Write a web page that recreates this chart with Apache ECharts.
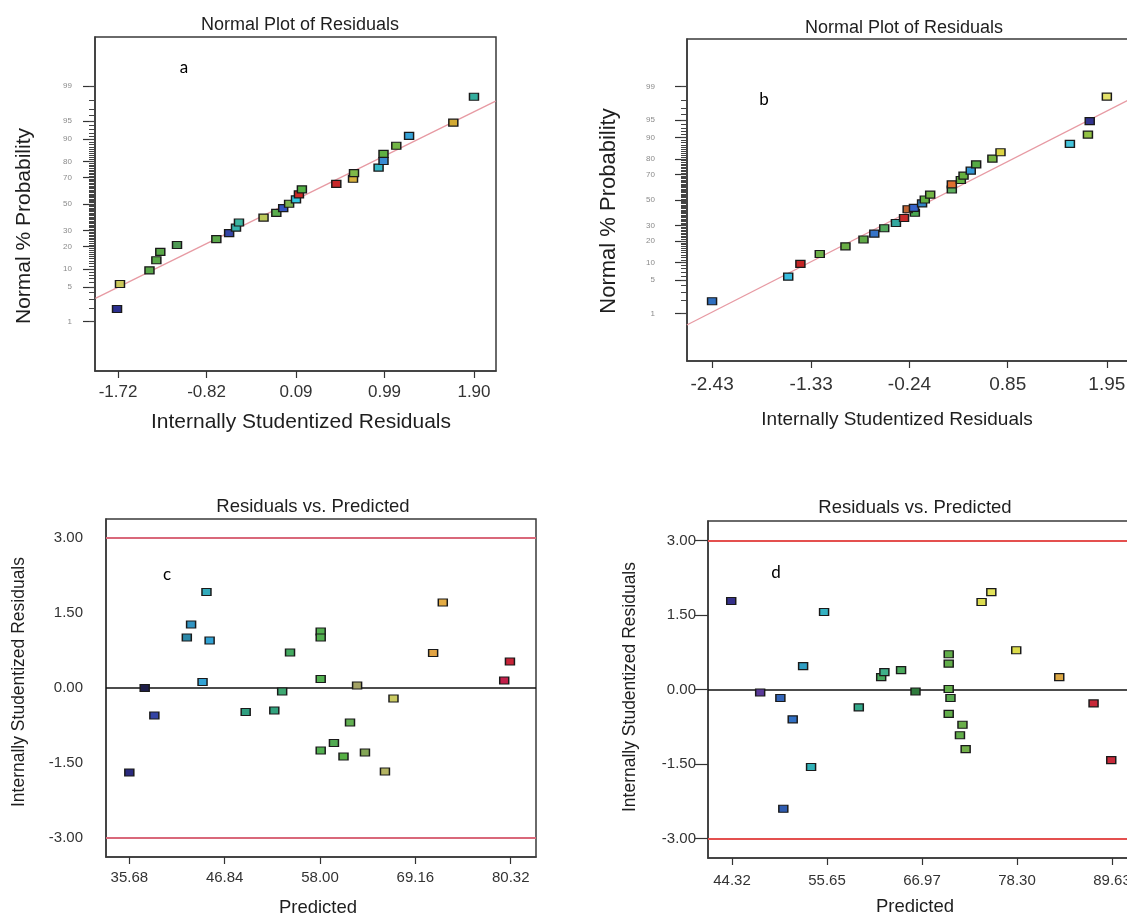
<!DOCTYPE html>
<html>
<head>
<meta charset="utf-8">
<title>Residual plots</title>
<script src="https://cdn.jsdelivr.net/npm/echarts@6/dist/echarts.min.js"></script>
<style>
  html, body { margin: 0; padding: 0; background: #fff; overflow: hidden; }
  #chart { width: 1127px; height: 918px; }
</style>
</head>
<body>
<div id="chart"></div>
<script>
// --- data ---
// a: normal plot, residual vs normal % probability
var resA = [-1.73, -1.70, -1.40, -1.33, -1.29, -1.12, -0.72, -0.59, -0.52, -0.49, -0.24, -0.11, -0.04, 0.02,
            0.09, 0.12, 0.15, 0.50, 0.67, 0.68, 0.93, 0.98, 0.98, 1.11, 1.24, 1.69, 1.90];
var pctA = [1.9, 5.7, 9.5, 13.3, 17.2, 20.9, 24.4, 28.2, 32.0, 35.7, 39.4, 43.0, 46.8, 50.2,
            53.6, 57.5, 61.4, 65.5, 69.1, 72.9, 76.4, 80.2, 83.9, 87.5, 91.1, 94.6, 98.3];
var fitA = [[-1.95, 3.1], [2.12, 97.9]];

// b: normal plot
var resB = [-2.43, -1.585, -1.45, -1.235, -0.95, -0.75, -0.63, -0.52, -0.39, -0.30, -0.18, -0.26, -0.19, -0.10,
            -0.07, -0.01, 0.23, 0.23, 0.33, 0.36, 0.44, 0.50, 0.68, 0.77, 1.54, 1.74, 1.76, 1.95];
var pctB = [1.9, 5.8, 9.5, 13.4, 17.1, 20.9, 24.5, 28.1, 31.9, 35.6, 39.7, 42.5, 43.6, 47.2,
            50.4, 54.4, 58.5, 62.6, 65.9, 69.1, 72.6, 76.7, 80.2, 83.6, 87.5, 91.0, 94.7, 98.3];
var fitB = [[-2.71, 0.52], [2.24, 98.2]];

// c: residuals vs predicted
var predC = [35.68, 37.48, 38.61, 42.41, 42.91, 44.71, 45.08, 44.25, 49.30, 52.65, 53.57, 54.49, 58.08, 58.08,
             58.08, 58.08, 59.63, 60.75, 61.51, 62.34, 63.26, 65.60, 66.60, 71.24, 72.37, 79.56, 80.23];
var residC = [-1.69, 0.00, -0.55, 1.01, 1.27, 1.92, 0.95, 0.12, -0.48, -0.45, -0.07, 0.71, 1.13, 1.01,
              0.18, -1.25, -1.10, -1.37, -0.69, 0.05, -1.29, -1.67, -0.21, 0.70, 1.71, 0.15, 0.53];

// d: residuals vs predicted
var predD = [44.23, 47.68, 50.09, 50.44, 51.56, 52.80, 53.75, 55.30, 59.44, 62.11, 62.49, 64.48, 66.20, 70.16,
             70.16, 70.16, 70.37, 70.16, 71.80, 71.50, 72.18, 74.08, 75.24, 78.21, 83.34, 87.43, 89.54];
var residD = [1.78, -0.06, -0.17, -2.40, -0.60, 0.47, -1.56, 1.56, -0.36, 0.25, 0.35, 0.39, -0.04, 0.71,
              0.52, 0.01, -0.17, -0.49, -0.71, -0.92, -1.20, 1.76, 1.96, 0.79, 0.25, -0.28, -1.42];

// tick labels
var ticksA = [-1.72, -0.82, 0.09, 0.99, 1.90];
var ticksB = [-2.43, -1.33, -0.24, 0.85, 1.95];
var ticksC = [35.68, 46.84, 58.00, 69.16, 80.32];
var ticksD = [44.32, 55.65, 66.97, 78.30, 89.63];
var probTicks = [1, 5, 10, 20, 30, 50, 70, 80, 90, 95, 99];
var residTicks = [-3.00, -1.50, 0.00, 1.50, 3.00];
var limitLines = [3.00, -3.00];

// marker colours (colour scale of the response, one per point)
var colA = ['#2b2f8f','#c9c85a','#5aa84a','#5aa84a','#5aa84a','#4f9a55','#5aa84a','#3445a6','#35b3ad','#3bb5a0',
            '#bcc85a','#5aae4e','#3555bf','#7ab24c','#33c6df','#d02a25','#52b044','#c8282a','#d8b23e','#7fb848',
            '#34b8c8','#3a8bd2','#5fb043','#72b645','#36a3d8','#d2aa33','#33ae9e'];
var colB = ['#2f6fc0','#38bde0','#c42525','#6aae45','#6aae45','#60aa48','#3573c8','#52a85c','#34a8a0','#c82a2a',
            '#4aa852','#c06434','#3563c8','#3284c4','#62b042','#72b444','#5eb05e','#e07030','#64b244','#66b040',
            '#3595d5','#56aa44','#76b444','#dcd444','#44c4dc','#92c244','#32338f','#e4e26a'];
var colC = ['#2a2a7e','#1e1e48','#3444a4','#2b88a8','#3194c2','#32aabb','#31a2d4','#31a2d4','#2f9f80','#32a27e',
            '#3ea872','#43aa60','#52b050','#52b050','#52b050','#52b050','#52aa52','#56b044','#62b052','#a3a264',
            '#84a656','#b4b462','#caca62','#e2a444','#e4ac44','#c2204a','#c82438'];
var colD = ['#35308a','#5a3a9a','#3264b8','#2f5cb0','#3170c4','#2f9fc4','#31b2b8','#35b2c2','#33a98a','#48aa5e',
            '#3fb08a','#4aaa5c','#2e7a3c','#62ae4a','#62ae4a','#62ae4a','#5aac52','#62ae4a','#6aae4a','#62ae4a',
            '#72b04a','#dcdc50','#e2e25a','#dcdc4a','#dca844','#c82838','#c82a3a'];

// inverse normal cdf (Acklam) for the probability axis
function probit(p) {
  var a = [-3.969683028665376e+01, 2.209460984245205e+02, -2.759285104469687e+02, 1.383577518672690e+02, -3.066479806614716e+01, 2.506628277459239e+00];
  var b = [-5.447609879822406e+01, 1.615858368580409e+02, -1.556989798598866e+02, 6.680131188771972e+01, -1.328068155288572e+01];
  var c = [-7.784894002430293e-03, -3.223964580411365e-01, -2.400758277161838e+00, -2.549732539343734e+00, 4.374664141464968e+00, 2.938163982698783e+00];
  var d = [7.784695709041462e-03, 3.224671290700398e-01, 2.445134137142996e+00, 3.754408661907416e+00];
  var pl = 0.02425, q, r;
  if (p < pl) {
    q = Math.sqrt(-2 * Math.log(p));
    return (((((c[0]*q+c[1])*q+c[2])*q+c[3])*q+c[4])*q+c[5]) / ((((d[0]*q+d[1])*q+d[2])*q+d[3])*q+1);
  }
  if (p <= 1 - pl) {
    q = p - 0.5; r = q * q;
    return (((((a[0]*r+a[1])*r+a[2])*r+a[3])*r+a[4])*r+a[5])*q / (((((b[0]*r+b[1])*r+b[2])*r+b[3])*r+b[4])*r+1);
  }
  q = Math.sqrt(-2 * Math.log(1 - p));
  return -(((((c[0]*q+c[1])*q+c[2])*q+c[3])*q+c[4])*q+c[5]) / ((((d[0]*q+d[1])*q+d[2])*q+d[3])*q+1);
}

var FONT = '"Liberation Sans", Arial, sans-serif';
var probMajor = probTicks.map(function (p) { return probit(p / 100); });
var probMinor = [];
for (var k = 1; k <= 99; k++) probMinor.push(probit(k / 100));

function probLabel(v) {
  var best = 0;
  for (var i = 1; i < probMajor.length; i++) {
    if (Math.abs(probMajor[i] - v) < Math.abs(probMajor[best] - v)) best = i;
  }
  return String(probTicks[best]);
}
function fix2(v) { return v.toFixed(2); }

function pts(xs, ys, cols, toY) {
  return xs.map(function (x, i) {
    return { value: [x, toY ? toY(ys[i]) : ys[i]], itemStyle: { color: cols[i] } };
  });
}
function pctToZ(p) { return probit(p / 100); }

var boxLine = { show: true, onZero: false, lineStyle: { color: '#3a3a3a', width: 1.5 } };

function xAxisOf(grid, min, max, ticks, fs, margin) {
  return {
    gridIndex: grid, type: 'value', min: min, max: max,
    axisLine: boxLine,
    axisTick: { show: true, length: 7, customValues: ticks, lineStyle: { color: '#333', width: 1.2 } },
    axisLabel: { customValues: ticks, formatter: fix2, fontSize: fs, color: '#333', fontFamily: FONT, margin: margin },
    splitLine: { show: false }
  };
}
function probAxes(grid, margin) {
  return [{
    gridIndex: grid, type: 'value', min: -3.3, max: 3.3,
    axisLine: boxLine,
    axisTick: { show: true, length: 12, customValues: probMajor, lineStyle: { color: '#333', width: 1.2 } },
    axisLabel: { customValues: probMajor, formatter: probLabel, fontSize: 8, color: '#8a8a8a', fontFamily: FONT, margin: margin },
    splitLine: { show: false }
  }, {
    gridIndex: grid, type: 'value', min: -3.3, max: 3.3, position: 'left',
    axisLine: { show: false, onZero: false },
    axisTick: { show: true, length: 6, customValues: probMinor, lineStyle: { color: '#444', width: 1 } },
    axisLabel: { show: false },
    splitLine: { show: false }
  }];
}
function residAxis(grid, lim, tickLen, margin) {
  return {
    gridIndex: grid, type: 'value', min: -lim, max: lim,
    axisLine: boxLine,
    axisTick: { show: tickLen > 0, length: tickLen, customValues: residTicks, lineStyle: { color: '#333', width: 1.2 } },
    axisLabel: { customValues: residTicks, formatter: fix2, fontSize: 15, color: '#333', fontFamily: FONT, margin: margin },
    splitLine: { show: false }
  };
}

var marker = { symbol: 'rect', symbolSize: [9, 7], itemStyle: { borderColor: '#1a1a1a', borderWidth: 1.3, opacity: 1 } };
function scatter(xi, yi, data, extra) {
  var s = {
    type: 'scatter', xAxisIndex: xi, yAxisIndex: yi, data: data, z: 5,
    symbol: marker.symbol, symbolSize: marker.symbolSize, itemStyle: marker.itemStyle,
    emphasis: { disabled: true }
  };
  for (var key in extra) s[key] = extra[key];
  return s;
}
function fitLine(xi, yi, pairs) {
  return {
    type: 'line', xAxisIndex: xi, yAxisIndex: yi, showSymbol: false, z: 3,
    data: pairs.map(function (p) { return [p[0], pctToZ(p[1])]; }),
    lineStyle: { color: '#e79aa3', width: 1.3 }
  };
}
function limits(redColor) {
  var lines = limitLines.map(function (v) {
    return { yAxis: v, lineStyle: { color: redColor, width: 2, type: 'solid' } };
  });
  lines.push({ yAxis: 0, lineStyle: { color: '#111', width: 1.5, type: 'solid' } });
  return { symbol: 'none', silent: true, label: { show: false }, animation: false, data: lines };
}

function txt(x, y, s, size, rot, family, color) {
  return {
    type: 'text', x: x, y: y, rotation: rot || 0, silent: true,
    style: { text: s, fontSize: size, fontFamily: family || FONT, fill: color || '#1e1e1e',
             textAlign: 'center', textVerticalAlign: 'middle' }
  };
}
var R = Math.PI / 2;

var chart = echarts.init(document.getElementById('chart'), null, { renderer: 'canvas' });
var yA = probAxes(0, 23), yB = probAxes(1, 32);
chart.setOption({
  animation: false,
  backgroundColor: '#fff',
  grid: [
    { left: 95, right: 631, top: 37, bottom: 547, show: true, borderColor: '#3a3a3a', borderWidth: 1.5, outerBoundsMode: 'none' },
    { left: 687, right: -6, top: 39, bottom: 557, show: true, borderColor: '#3a3a3a', borderWidth: 1.5, outerBoundsMode: 'none' },
    { left: 106, right: 591, top: 519, bottom: 61, show: true, borderColor: '#3a3a3a', borderWidth: 1.5, outerBoundsMode: 'none' },
    { left: 708, right: -9, top: 521, bottom: 60, show: true, borderColor: '#3a3a3a', borderWidth: 1.5, outerBoundsMode: 'none' }
  ],
  xAxis: [
    xAxisOf(0, -1.954, 2.124, ticksA, 17, 13),
    xAxisOf(1, -2.708, 2.24, ticksB, 19, 14),
    xAxisOf(2, 32.95, 83.28, ticksC, 15, 13),
    xAxisOf(3, 41.46, 92.49, ticksD, 15, 15)
  ],
  yAxis: [yA[0], yA[1], yB[0], yB[1], residAxis(2, 3.38, 0, 23), residAxis(3, 3.39, 13, 12)],
  series: [
    fitLine(0, 0, fitA),
    scatter(0, 0, pts(resA, pctA, colA, pctToZ)),
    fitLine(1, 2, fitB),
    scatter(1, 2, pts(resB, pctB, colB, pctToZ)),
    scatter(2, 4, pts(predC, residC, colC), { markLine: limits('#d9687a') }),
    scatter(3, 5, pts(predD, residD, colD), { markLine: limits('#e4504f') })
  ],
  graphic: [
    txt(300, 25, 'Normal Plot of Residuals', 18),
    txt(904, 28, 'Normal Plot of Residuals', 18),
    txt(313, 507, 'Residuals vs. Predicted', 18.5),
    txt(915, 508, 'Residuals vs. Predicted', 18.5),
    txt(301, 422, 'Internally Studentized Residuals', 21),
    txt(897, 420, 'Internally Studentized Residuals', 19),
    txt(318, 908, 'Predicted', 18.5),
    txt(915, 907, 'Predicted', 18.5),
    txt(24, 226, 'Normal % Probability', 21, R),
    txt(609, 211, 'Normal % Probability', 22, R),
    txt(19, 682, 'Internally Studentized Residuals', 17.5, R),
    txt(630, 687, 'Internally Studentized Residuals', 17.5, R),
    txt(184, 68, 'a', 17, 0, 'Lato, "Open Sans", sans-serif', '#000'),
    txt(764, 100, 'b', 17, 0, 'Lato, "Open Sans", sans-serif', '#000'),
    txt(167, 575, 'c', 17, 0, 'Lato, "Open Sans", sans-serif', '#000'),
    txt(776, 573, 'd', 17, 0, 'Lato, "Open Sans", sans-serif', '#000')
  ]
});
</script>
</body>
</html>
